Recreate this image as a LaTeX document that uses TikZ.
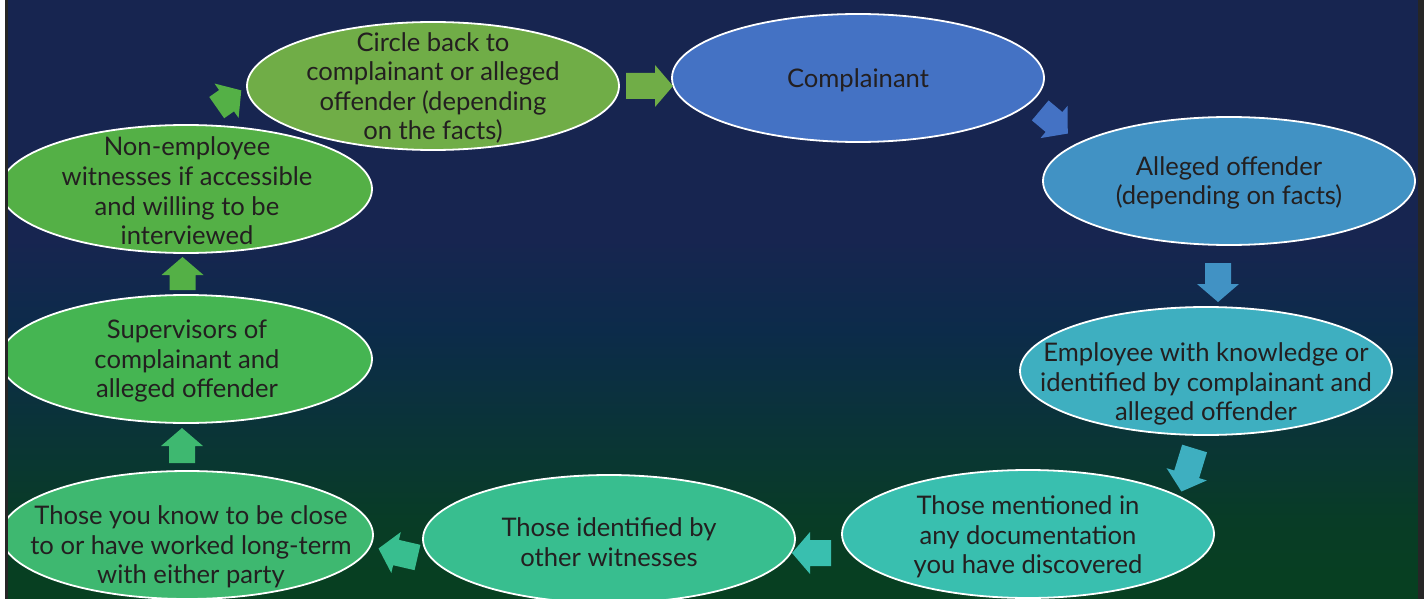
\documentclass[tikz,border=0pt]{standalone}
\usepackage{fontspec}
\setmainfont{Lato}
\usetikzlibrary{shapes.geometric}

\definecolor{bgA}{RGB}{7,64,32}
\definecolor{bgB}{RGB}{8,60,38}
\definecolor{bgC}{RGB}{10,52,55}
\definecolor{bgD}{RGB}{12,43,74}
\definecolor{bgE}{RGB}{23,37,80}
\definecolor{stripc}{RGB}{38,38,38}
\definecolor{txtc}{RGB}{35,31,32}
\definecolor{cCirc}{RGB}{112,173,71}
\definecolor{cComp}{RGB}{68,114,196}
\definecolor{cAlleg}{RGB}{65,146,196}
\definecolor{cEmpl}{RGB}{62,175,192}
\definecolor{cMent}{RGB}{57,191,175}
\definecolor{cIdent}{RGB}{56,190,143}
\definecolor{cKnow}{RGB}{62,184,112}
\definecolor{cSup}{RGB}{69,181,82}
\definecolor{cNon}{RGB}{84,176,70}

\pgfdeclareverticalshading{bgshade}{100bp}{color(0bp)=(bgA); color(25bp)=(bgA); color(31.6bp)=(bgB); color(39bp)=(bgC); color(47.5bp)=(bgD); color(55bp)=(bgE); color(75bp)=(bgE); color(100bp)=(bgE)}

\tikzset{
  bub/.style={ellipse, draw=white, line width=0.9pt, minimum width=186pt, minimum height=64pt, inner sep=0pt},
  txt/.style={align=center, inner sep=0pt, text=txtc, font=\fontsize{12.8}{14.8}\selectfont},
  barrow/.pic={\path[pic actions] ({-#1/2},-13) -- ({#1/2-18},-13) -- ({#1/2-18},-21) -- ({#1/2},0) -- ({#1/2-18},21) -- ({#1/2-18},13) -- ({-#1/2},13) -- cycle;}
}

\begin{document}
\begin{tikzpicture}[x=0.5pt, y=-0.5pt]
\useasboundingbox (0,0) rectangle (1424,599);
\fill[shading=bgshade] (0,0) rectangle (1424,599);

% ellipses
\node[bub, fill=cCirc]  (n1) at (433,86)   {};
\node[bub, fill=cComp]  (n2) at (858,78)   {};
\node[bub, fill=cAlleg] (n3) at (1229,181) {};
\node[bub, fill=cEmpl]  (n4) at (1206,371) {};
\node[bub, fill=cMent]  (n5) at (1028,534) {};
\node[bub, fill=cIdent] (n6) at (609,539)  {};
\node[bub, fill=cKnow]  (n7) at (187,535)  {};
\node[bub, fill=cSup]   (n8) at (186,359)  {};
\node[bub, fill=cNon]   (n9) at (186,189)  {};

% texts
\node[txt] (t1) at (433,88)   {Circle back to\\complainant or alleged\\offender (depending\\on the facts)};
\node[txt] (t2) at (858,80)   {Complainant};
\node[txt] (t3) at (1229,183) {Alleged offender\\(depending on facts)};
\node[txt] (t4) at (1206,384) {Employee with knowledge or\\identified by complainant and\\alleged offender};
\node[txt] (t5) at (1028,537) {Those mentioned in\\any documentation\\you have discovered};
\node[txt] (t6) at (609,542)  {Those identified by\\other witnesses};
\node[txt] (t7) at (191,547)  {Those you know to be close\\to or have worked long-term\\with either party};
\node[txt] (t8) at (187,361)  {Supervisors of\\complainant and\\alleged offender};
\node[txt] (t9) at (187,191)  {Non-employee\\witnesses if accessible\\and willing to be\\interviewed};

% block arrows
\pic[fill=cCirc, rotate=0]     at (649.5,86)  {barrow=47};
\pic[fill=cComp, rotate=-40]   at (1054,122)  {barrow=36};
\pic[fill=cAlleg, rotate=-90]  at (1218,282.5){barrow=39};
\pic[fill=cEmpl, rotate=-107]  at (1188,470)  {barrow=45};
\pic[fill=cMent, rotate=180]   at (811.5,553) {barrow=39};
\pic[fill=cIdent, rotate=167]  at (398,553)   {barrow=40};
\pic[fill=cKnow, rotate=90]    at (182,445.5) {barrow=35};
\pic[fill=cNon, rotate=90]     at (182.5,273.5){barrow=33};
\pic[fill=cNon, rotate=35]     at (229,99)    {barrow=30};

% frame strips
\fill[white] (0,0) rectangle (5,599);
\fill[stripc] (5,0) rectangle (8,599);
\fill[stripc] (1418,0) rectangle (1424,599);
\end{tikzpicture}
\end{document}
